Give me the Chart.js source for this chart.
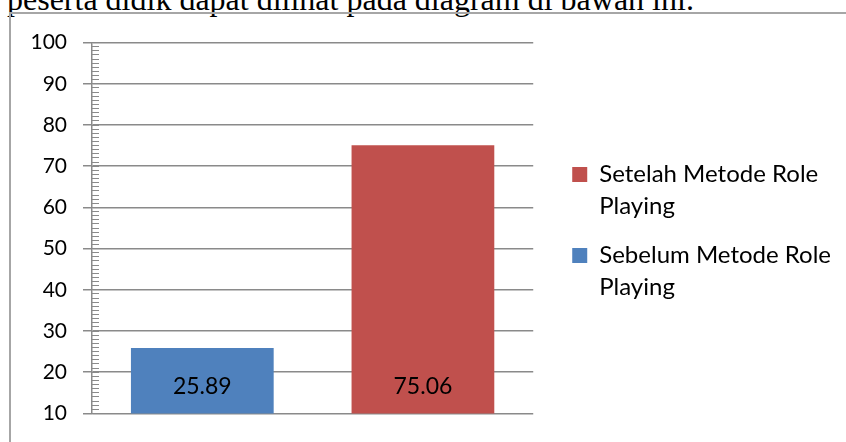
<!DOCTYPE html>
<html>
<head>
<meta charset="utf-8">
<script src="https://cdn.jsdelivr.net/npm/chart.js@4"></script>
<style>
  html, body { margin: 0; padding: 0; background: #fff; overflow: hidden; }
  body { width: 846px; height: 442px; position: relative; }
  #caption {
    position: absolute; left: 7px; top: -17px;
    font: 32px/32px "Liberation Serif", serif; color: #000; white-space: nowrap;
  }
  #frame {
    position: absolute; left: 9px; top: 12px; width: 860px; height: 460px;
    border: 2px solid #a6a6a6;
  }
  #wrap { position: absolute; left: 11px; top: 14px; width: 835px; height: 428px; }
</style>
</head>
<body>
<div id="caption">peserta didik dapat dilihat pada diagram di bawah ini.</div>
<div id="frame"></div>
<div id="wrap"><canvas id="roleChart"></canvas></div>
<script>
const categories = ['Sebelum', 'Setelah'];
const sebelumValues = [25.89, null];
const setelahValues = [null, 75.06];
const seriesLabels = [
    ['Sebelum Metode Role', 'Playing'],
    ['Setelah Metode Role', 'Playing']
];
const yTicks = { min: 10, max: 100, step: 10 };

const gridColor = '#8a8a8a';
const font = 'Lato';

// value labels sitting near the bottom of each bar
const barValues = {
    id: 'barValues',
    afterDatasetsDraw(chart) {
        const ctx = chart.ctx;
        const y = chart.scales.y.getPixelForValue(yTicks.min) - 27;
        ctx.save();
        ctx.font = '23px ' + font;
        ctx.fillStyle = '#000';
        ctx.textAlign = 'center';
        ctx.textBaseline = 'middle';
        chart.data.datasets.forEach((ds, i) => {
            chart.getDatasetMeta(i).data.forEach((bar, j) => {
                if (ds.data[j] == null) return;
                ctx.fillText(ds.data[j].toFixed(2), bar.x, y);
            });
        });
        ctx.restore();
    }
};

const roleChart = new Chart(document.getElementById('roleChart'), {
    type: 'bar',
    data: {
        labels: categories,
        datasets: [
            {
                label: seriesLabels[0],
                data: sebelumValues,
                backgroundColor: '#4f81bd'
            },
            {
                label: seriesLabels[1],
                data: setelahValues,
                backgroundColor: '#c0504d'
            }
        ]
    },
    options: {
        responsive: true,
        maintainAspectRatio: false,
        animation: false,
        layout: { padding: { top: 27, bottom: 23, right: 5 } },
        datasets: {
            bar: { grouped: false, categoryPercentage: 1, barPercentage: 0.647 }
        },
        scales: {
            x: { display: false },
            y: {
                position: 'left',
                weight: 2,
                min: yTicks.min,
                max: yTicks.max,
                ticks: {
                    stepSize: yTicks.step,
                    padding: 16,
                    color: '#000',
                    font: { family: font, size: 21 }
                },
                grid: { color: gridColor, lineWidth: 1.5, tickLength: 9 },
                border: { color: gridColor, width: 1.5 },
                afterFit: s => { s.width = 81; }
            },
            yMinor: {
                position: 'left',
                weight: 1,
                min: yTicks.min,
                max: yTicks.max,
                ticks: { display: false, stepSize: 1, maxTicksLimit: 100 },
                grid: { drawOnChartArea: false, tickLength: -7, color: gridColor, lineWidth: 1 },
                border: { display: false },
                afterFit: s => { s.width = 0; }
            },
            gap: {
                position: 'right',
                ticks: { display: false },
                grid: { display: false },
                border: { display: false },
                afterFit: s => { s.width = 22; }
            }
        },
        plugins: {
            legend: {
                position: 'right',
                reverse: true,
                maxWidth: 320,
                title: { display: true, text: '', padding: 0, font: { size: 10, lineHeight: 1 } },
                labels: {
                    boxWidth: 15,
                    boxHeight: 15,
                    padding: 17,
                    color: '#000',
                    font: { family: font, size: 24, lineHeight: 32 / 24 }
                }
            },
            tooltip: { enabled: false }
        }
    },
    plugins: [barValues]
});
</script>
</body>
</html>
